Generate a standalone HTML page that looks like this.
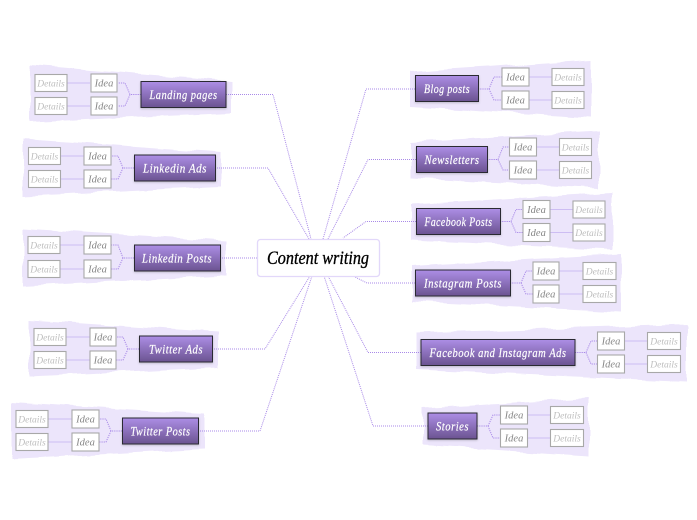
<!DOCTYPE html>
<html><head><meta charset="utf-8"><style>
html,body{margin:0;padding:0;background:#fff;width:697px;height:520px;overflow:hidden}
svg{display:block}
text{font-family:"Liberation Serif",serif;font-style:italic;text-anchor:middle}
.bg{fill:#ece5fb;filter:url(#wavy)}
.m{fill:none;stroke:#a98ae8;stroke-width:1;stroke-dasharray:1 1}
.d{fill:none;stroke:#a98ae8;stroke-width:1;stroke-dasharray:1.2 1}
.s{stroke:#cdbdf3;stroke-width:1;fill:none}
.b{fill:url(#g);stroke:#2c2c33;stroke-width:1;filter:url(#sh)}
.i{fill:#fff;stroke:#a8a8a8;stroke-width:1.1}
.t{fill:#fff;font-size:13px;letter-spacing:.6px;stroke:#fff;stroke-width:.2px}
.it{fill:#888;font-size:10.5px}
.dt{fill:#bdbdbd;font-size:9.5px}
</style></head><body>
<svg width="697" height="520" viewBox="0 0 697 520" xmlns="http://www.w3.org/2000/svg">
<defs>
<linearGradient id="g" x1="0" y1="0" x2="0" y2="1"><stop offset="0" stop-color="#ad8ee6"/><stop offset="1" stop-color="#6b5391"/></linearGradient>
<filter id="wavy" x="-5%" y="-20%" width="110%" height="140%"><feTurbulence type="fractalNoise" baseFrequency="0.05" numOctaves="1" seed="4"/><feDisplacementMap in="SourceGraphic" scale="7" xChannelSelector="R" yChannelSelector="G"/></filter>
<filter id="sh" x="-10%" y="-20%" width="120%" height="140%"><feDropShadow dx="0" dy="1" stdDeviation="1" flood-color="#000" flood-opacity=".2"/></filter>
</defs>

<polygon class="bg" points="30,65 231,81 231,113 30,122"/>
<polygon class="bg" points="23,139 221,153 221,187 23,196"/>
<polygon class="bg" points="23,228 226,241 226,276 23,286"/>
<polygon class="bg" points="29,320 218,332 218,367 29,376"/>
<polygon class="bg" points="11,402 204,414 204,449 11,459"/>
<polygon class="bg" points="410,72 591,60 591,118 410,107"/>
<polygon class="bg" points="411,142 599,131 599,188 411,178"/>
<polygon class="bg" points="411,204 612,193 612,250 411,240"/>
<polygon class="bg" points="411,266 621,254 621,312 411,301"/>
<polygon class="bg" points="416,333 687,324 687,382 416,370"/>
<polygon class="bg" points="423,408 589,398 589,456 423,445"/>

<g class="m">
<path d="M226 94.500H273L311 239"/>
<path d="M215 168H268L309 239"/>
<path d="M220 258H257"/>
<path d="M212 349H265L310 276"/>
<path d="M198 431H260L312 276"/>
<path d="M415 89H366L323 239"/>
<path d="M416 159.500H368L328 239"/>
<path d="M416 221.500H366L343 238"/>
<path d="M415 283H367L353 276"/>
<path d="M421 352.500H368L328 276"/>
<path d="M428 426H373L324 276"/>
</g>

<g class="d">
<path d="M141 94.500H130L125 83H118M130 94.500L125 106H118"/>
<path d="M134 168H123L118 156H111M123 168L118 179H111"/>
<path d="M134 258H123L118 245H111M123 258L118 269H111"/>
<path d="M139 349H128L123 337H116M128 349L123 360H116"/>
<path d="M122 431H111L106 419H99M111 431L106 442H99"/>
<path d="M478 89H489L494 77H502M489 89L494 100H502"/>
<path d="M487 159.500H498L503 147H509M498 159.500L503 170H509"/>
<path d="M500 221.500H511L516 209.500H523M511 221.500L516 232.500H523"/>
<path d="M510 283H521L526 271H533M521 283L526 294H533"/>
<path d="M575 352.500H586L591 341H597M586 352.500L591 364H597"/>
<path d="M477 426H488L493 415H500M488 426L493 438H500"/>
</g>

<g class="s">
<path d="M67 83H90M67 106H90"/>
<path d="M61 156H84M61 179H84"/>
<path d="M60 245H84M60 269H84"/>
<path d="M66 337H90M66 360H90"/>
<path d="M48 419H72M48 442H72"/>
<path d="M529 77H552M529 100H552"/>
<path d="M537 147H559M537 170H559"/>
<path d="M550 209.500H573M550 232.500H573"/>
<path d="M559 271H583M559 294H583"/>
<path d="M625 341H647M625 364H647"/>
<path d="M527 415H550M527 438H550"/>
</g>

<rect x="257.500" y="239.500" width="122" height="37" rx="3" fill="#fff" stroke="#e2d8fa" stroke-width="1.3"/>
<text x="318" y="264" font-size="19" fill="#000" stroke="#000" stroke-width=".35" textLength="102" lengthAdjust="spacingAndGlyphs">Content writing</text>

<!-- main boxes -->
<rect class="b" x="141" y="81.500" width="85" height="26"/><text class="t" x="183.500" y="99" textLength="68" lengthAdjust="spacingAndGlyphs">Landing pages</text>
<rect class="b" x="134.500" y="155" width="81" height="26"/><text class="t" x="175" y="172.500" textLength="64" lengthAdjust="spacingAndGlyphs">Linkedin Ads</text>
<rect class="b" x="134.500" y="245" width="86" height="26"/><text class="t" x="177" y="262.500" textLength="70" lengthAdjust="spacingAndGlyphs">Linkedin Posts</text>
<rect class="b" x="139.500" y="336" width="73" height="26"/><text class="t" x="176" y="353.500" textLength="54" lengthAdjust="spacingAndGlyphs">Twitter Ads</text>
<rect class="b" x="122.500" y="418" width="76" height="26"/><text class="t" x="160.500" y="435.500" textLength="60" lengthAdjust="spacingAndGlyphs">Twitter Posts</text>
<rect class="b" x="415.500" y="75.500" width="63" height="26"/><text class="t" x="447" y="93" textLength="46" lengthAdjust="spacingAndGlyphs">Blog posts</text>
<rect class="b" x="416.500" y="146.500" width="71" height="26"/><text class="t" x="452" y="164" textLength="55" lengthAdjust="spacingAndGlyphs">Newsletters</text>
<rect class="b" x="416.500" y="208.500" width="84" height="26"/><text class="t" x="458.500" y="226" textLength="68" lengthAdjust="spacingAndGlyphs">Facebook Posts</text>
<rect class="b" x="415.500" y="270" width="95" height="26"/><text class="t" x="463" y="287.500" textLength="78" lengthAdjust="spacingAndGlyphs">Instagram Posts</text>
<rect class="b" x="421" y="339.500" width="154" height="26"/><text class="t" x="498" y="357" textLength="137" lengthAdjust="spacingAndGlyphs">Facebook and Instagram Ads</text>
<rect class="b" x="428" y="413" width="49" height="26"/><text class="t" x="452.500" y="430.500" textLength="33" lengthAdjust="spacingAndGlyphs">Stories</text>

<!-- idea boxes -->
<g>
<rect class="i" x="91" y="74" width="26" height="18"/><text class="it" x="104" y="86.500">Idea</text>
<rect class="i" x="91" y="97" width="26" height="18"/><text class="it" x="104" y="109.500">Idea</text>
<rect class="i" x="84" y="147" width="27" height="18"/><text class="it" x="97.500" y="159.500">Idea</text>
<rect class="i" x="84" y="170" width="27" height="18"/><text class="it" x="97.500" y="182.500">Idea</text>
<rect class="i" x="84" y="236" width="27" height="18"/><text class="it" x="97.500" y="248.500">Idea</text>
<rect class="i" x="84" y="260" width="27" height="18"/><text class="it" x="97.500" y="272.500">Idea</text>
<rect class="i" x="90" y="328" width="26" height="18"/><text class="it" x="103" y="340.500">Idea</text>
<rect class="i" x="90" y="351" width="26" height="18"/><text class="it" x="103" y="363.500">Idea</text>
<rect class="i" x="72" y="410" width="27" height="18"/><text class="it" x="85.500" y="422.500">Idea</text>
<rect class="i" x="72" y="433" width="27" height="18"/><text class="it" x="85.500" y="445.500">Idea</text>
<rect class="i" x="502" y="68" width="27" height="18"/><text class="it" x="515.500" y="80.500">Idea</text>
<rect class="i" x="502" y="91" width="27" height="18"/><text class="it" x="515.500" y="103.500">Idea</text>
<rect class="i" x="509.500" y="138" width="27" height="18"/><text class="it" x="523" y="150.500">Idea</text>
<rect class="i" x="509.500" y="161" width="27" height="18"/><text class="it" x="523" y="173.500">Idea</text>
<rect class="i" x="523" y="200.500" width="27" height="18"/><text class="it" x="536.500" y="213">Idea</text>
<rect class="i" x="523" y="223.500" width="27" height="18"/><text class="it" x="536.500" y="236">Idea</text>
<rect class="i" x="533" y="262" width="26" height="18"/><text class="it" x="546" y="274.500">Idea</text>
<rect class="i" x="533" y="285" width="26" height="18"/><text class="it" x="546" y="297.500">Idea</text>
<rect class="i" x="597.500" y="332" width="27" height="18"/><text class="it" x="611" y="344.500">Idea</text>
<rect class="i" x="597.500" y="355" width="27" height="18"/><text class="it" x="611" y="367.500">Idea</text>
<rect class="i" x="500.500" y="406" width="27" height="18"/><text class="it" x="514" y="418.500">Idea</text>
<rect class="i" x="500.500" y="429" width="27" height="18"/><text class="it" x="514" y="441.500">Idea</text>
</g>

<!-- details boxes -->
<g>
<rect class="i" x="35" y="74.500" width="32" height="17"/><text class="dt" x="51" y="86.500">Details</text>
<rect class="i" x="35" y="97.500" width="32" height="17"/><text class="dt" x="51" y="109.500">Details</text>
<rect class="i" x="28.500" y="147.500" width="32" height="17"/><text class="dt" x="44.500" y="159.500">Details</text>
<rect class="i" x="28.500" y="170.500" width="32" height="17"/><text class="dt" x="44.500" y="182.500">Details</text>
<rect class="i" x="28" y="236.500" width="32" height="17"/><text class="dt" x="44" y="248.500">Details</text>
<rect class="i" x="28" y="260.500" width="32" height="17"/><text class="dt" x="44" y="272.500">Details</text>
<rect class="i" x="34" y="328.500" width="32" height="17"/><text class="dt" x="50" y="340.500">Details</text>
<rect class="i" x="34" y="351.500" width="32" height="17"/><text class="dt" x="50" y="363.500">Details</text>
<rect class="i" x="16" y="410.500" width="32" height="17"/><text class="dt" x="32" y="422.500">Details</text>
<rect class="i" x="16" y="433.500" width="32" height="17"/><text class="dt" x="32" y="445.500">Details</text>
<rect class="i" x="552" y="68.500" width="32" height="17"/><text class="dt" x="568" y="80.500">Details</text>
<rect class="i" x="552" y="91.500" width="32" height="17"/><text class="dt" x="568" y="103.500">Details</text>
<rect class="i" x="559.500" y="138.500" width="32" height="17"/><text class="dt" x="575.500" y="150.500">Details</text>
<rect class="i" x="559.500" y="161.500" width="32" height="17"/><text class="dt" x="575.500" y="173.500">Details</text>
<rect class="i" x="573" y="201" width="32" height="17"/><text class="dt" x="589" y="213">Details</text>
<rect class="i" x="573" y="224" width="32" height="17"/><text class="dt" x="589" y="236">Details</text>
<rect class="i" x="583" y="262.500" width="33" height="17"/><text class="dt" x="599.500" y="274.500">Details</text>
<rect class="i" x="583" y="285.500" width="33" height="17"/><text class="dt" x="599.500" y="297.500">Details</text>
<rect class="i" x="647.500" y="332.500" width="33" height="17"/><text class="dt" x="664" y="344.500">Details</text>
<rect class="i" x="647.500" y="355.500" width="33" height="17"/><text class="dt" x="664" y="367.500">Details</text>
<rect class="i" x="550.500" y="406.500" width="33" height="17"/><text class="dt" x="567" y="418.500">Details</text>
<rect class="i" x="550.500" y="429.500" width="33" height="17"/><text class="dt" x="567" y="441.500">Details</text>
</g>
</svg>
</body></html>
